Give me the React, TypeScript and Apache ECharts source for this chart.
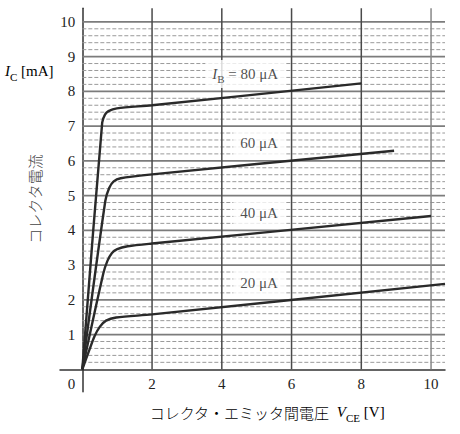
import React, { useEffect, useRef } from "react";
import * as echarts from "echarts";

// ---- axis structure ----
const X_MIN = -0.64;
const X_MAX = 10.4;
const Y_MIN = -0.645;
const Y_MAX = 10.39;
const xLabelValues = [2, 4, 6, 8, 10];
const yLabelValues = [0, 1, 2, 3, 4, 5, 6, 7, 8, 9, 10];
const verticalGrid = [2, 4, 6, 8, 10];
const majorY = [1, 2, 3, 4, 5, 6, 7, 8, 9, 10];
const minorBase = [0, 1, 2, 3, 4, 5, 6, 7, 8, 9];
const minorSteps = [0.2, 0.4, 0.6, 0.8];

// ---- curves (VCE [V], IC [mA]) ----
const curve80: number[][] = [[0, 0], [0.57, 7.1], [0.65, 7.33], [0.75, 7.43], [0.99, 7.51], [2, 7.6], [8, 8.23]];
const curve60: number[][] = [[0, 0], [0.66, 4.85], [0.77, 5.22], [0.9, 5.41], [1.1, 5.5], [2, 5.61], [8.94, 6.29]];
const curve40: number[][] = [[0, 0], [0.6, 2.75], [0.72, 3.12], [0.85, 3.35], [1.0, 3.46], [1.3, 3.54], [2, 3.62], [10, 4.41]];
const curve20: number[][] = [[0, 0], [0.2, 0.55], [0.35, 0.95], [0.5, 1.22], [0.68, 1.4], [0.97, 1.49], [2, 1.58], [10.4, 2.46]];
const curves = [curve80, curve60, curve40, curve20];

// ---- curve labels ----
const curveNames = ["80 μA", "60 μA", "40 μA", "20 μA"];
const labelX = [4.67, 5.07, 5.07, 5.07];
const labelY = [8.5, 6.51, 4.5, 2.48];

const SERIF = "Liberation Serif, serif";
const JP = "Noto Sans CJK JP, sans-serif";
const TXT = "#222";
const JP_COLOR = "#444";

const serifRich = {
  i: { fontFamily: SERIF, fontStyle: "italic", fontSize: 15, color: TXT, lineHeight: 22 },
  s: { fontFamily: SERIF, fontSize: 11, color: TXT, lineHeight: 12, verticalAlign: "bottom" },
  t: { fontFamily: SERIF, fontSize: 15, color: TXT, lineHeight: 22 },
  j: { fontFamily: JP, fontSize: 15, fontWeight: 300, color: JP_COLOR, lineHeight: 22 },
};

function buildOption() {
  const hLines: number[][] = [];
  majorY.forEach((v) => hLines.push([v, 1]));
  minorBase.forEach((b) => minorSteps.forEach((s) => hLines.push([+(b + s).toFixed(2), 0])));
  const vLines: number[][] = verticalGrid.map((v) => [v, v === 10 ? 0 : 1]);

  const curveSeries = curves.map((c, i) => ({
    type: "line",
    name: curveNames[i],
    data: c,
    showSymbol: false,
    smooth: 0.3,
    silent: true,
    z: 3,
    xAxisIndex: 0,
    yAxisIndex: 0,
    lineStyle: { color: "#2a2a2a", width: 2.4 },
  }));

  const labelData = curveNames.map((n, i) => ({
    value: [labelX[i], labelY[i]],
    name: i === 0 ? `{i|I}{s|B}{t| = ${n}}` : `{t|${n}}`,
    label: { padding: [3, 7, 3, 7] },
  }));

  const tickLabel = {
    margin: 7,
    color: TXT,
    fontFamily: SERIF,
    fontSize: 15,
  };

  return {
    animation: false,
    backgroundColor: "#fff",
    grid: [
      // outer grid: axis lines cross at the origin and overshoot a little
      { left: 60, right: 15, top: 8.3, bottom: 42.3 },
      // inner grid: the plot area, used for tick labels
      { left: 82.3, right: 15, top: 8.3, bottom: 64.7 },
    ],
    xAxis: [
      {
        type: "value",
        gridIndex: 0,
        min: X_MIN,
        max: X_MAX,
        axisLine: { onZero: true, lineStyle: { color: "#333", width: 1.5 } },
        axisTick: { show: false },
        splitLine: { show: false },
        axisLabel: { show: false },
      },
      {
        type: "value",
        gridIndex: 1,
        min: 0,
        max: X_MAX,
        axisLine: { show: false },
        axisTick: { show: false },
        splitLine: { show: false },
        axisLabel: { ...tickLabel, customValues: xLabelValues },
      },
    ],
    yAxis: [
      {
        type: "value",
        gridIndex: 0,
        min: Y_MIN,
        max: Y_MAX,
        axisLine: { onZero: true, lineStyle: { color: "#333", width: 1.5 } },
        axisTick: { show: false },
        splitLine: { show: false },
        axisLabel: { show: false },
      },
      {
        type: "value",
        gridIndex: 1,
        min: 0,
        max: Y_MAX,
        axisLine: { show: false },
        axisTick: { show: false },
        splitLine: { show: false },
        axisLabel: {
          ...tickLabel,
          customValues: yLabelValues,
          formatter: (v: number) => (v === 0 ? "{z|0}" : String(v)),
          rich: {
            z: { fontFamily: SERIF, fontSize: 15, color: TXT, padding: [30, 0, 0, 0] },
          },
        },
      },
    ],
    series: [
      {
        type: "custom",
        name: "hgrid",
        xAxisIndex: 0,
        yAxisIndex: 0,
        silent: true,
        z: 1,
        data: hLines,
        renderItem: (params: any, api: any) => {
          const v = api.value(0);
          const major = api.value(1);
          const p1 = api.coord([0, v]);
          const p2 = api.coord([X_MAX, v]);
          return {
            type: "line",
            shape: { x1: p1[0], y1: p1[1], x2: p2[0], y2: p2[1] },
            style: major
              ? { stroke: "#7c7c7c", lineWidth: 1.8 }
              : { stroke: "#9a9a9a", lineWidth: 1, lineDash: [4, 2] },
          };
        },
      },
      {
        type: "custom",
        name: "vgrid",
        xAxisIndex: 0,
        yAxisIndex: 0,
        silent: true,
        z: 1,
        data: vLines,
        renderItem: (params: any, api: any) => {
          const v = api.value(0);
          const dark = api.value(1);
          const p1 = api.coord([v, 0]);
          const p2 = api.coord([v, Y_MAX]);
          return {
            type: "line",
            shape: { x1: p1[0], y1: p1[1], x2: p2[0], y2: p2[1] },
            style: { stroke: dark ? "#4a4a4a" : "#888", lineWidth: 1.5 },
          };
        },
      },
      ...curveSeries,
      {
        type: "scatter",
        name: "labels",
        xAxisIndex: 0,
        yAxisIndex: 0,
        silent: true,
        z: 5,
        symbolSize: 0.1,
        itemStyle: { color: "transparent" },
        data: labelData,
        label: {
          show: true,
          position: "inside",
          formatter: "{b}",
          backgroundColor: "#fff",
          rich: serifRich,
        },
      },
    ],
    graphic: [
      {
        type: "text",
        x: 5,
        y: 71,
        silent: true,
        style: {
          text: "{i|I}{s|C}{t| [mA]}",
          rich: serifRich,
          align: "left",
          verticalAlign: "middle",
        },
      },
      {
        type: "text",
        x: 34,
        y: 199,
        rotation: Math.PI / 2,
        silent: true,
        style: {
          text: "コレクタ電流",
          fontFamily: JP,
          fontSize: 15,
          fontWeight: 300,
          fill: JP_COLOR,
          align: "center",
          verticalAlign: "middle",
        },
      },
      {
        type: "text",
        x: 267,
        y: 412,
        silent: true,
        style: {
          text: "{j|コレクタ・エミッタ間電圧}{t|  }{i|V}{s|CE}{t| [V]}",
          rich: serifRich,
          align: "center",
          verticalAlign: "middle",
        },
      },
    ],
  };
}

export default function App() {
  const ref = useRef<HTMLDivElement>(null);
  useEffect(() => {
    const chart = echarts.init(ref.current as HTMLDivElement, null, { renderer: "svg" });
    chart.setOption(buildOption() as any);
    return () => chart.dispose();
  }, []);
  return (
    <div
      ref={ref}
      style={{ position: "absolute", left: 0, top: 0, width: 460, height: 434, background: "#fff" }}
    />
  );
}
